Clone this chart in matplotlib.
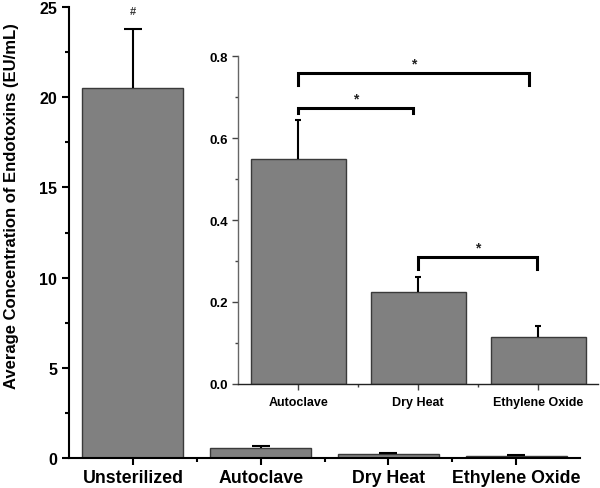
import matplotlib
matplotlib.use("Agg")
import matplotlib.pyplot as plt
from matplotlib.ticker import MultipleLocator, FixedLocator

plt.rcParams['font.family'] = ['Liberation Sans', 'DejaVu Sans']

categories = ["Unsterilized", "Autoclave", "Dry Heat", "Ethylene Oxide"]
means = [20.5, 0.55, 0.225, 0.115]
errors = [3.3, 0.095, 0.037, 0.027]

inset_categories = ["Autoclave", "Dry Heat", "Ethylene Oxide"]
inset_means = [0.549, 0.224, 0.115]
inset_errors = [0.095, 0.037, 0.027]

# brackets: (x_start, x_end, y_top, y_left_end, y_right_end)
brackets = [
    (0.0, 1.92, 0.759, 0.729, 0.729),
    (0.0, 0.96, 0.673, 0.662, 0.662),
    (1.0, 1.99, 0.310, 0.280, 0.280),
]

bar_color = "#808080"
edge_color = "#3a3a3a"

fig = plt.figure(figsize=(6.0, 4.89), dpi=100)
ax = fig.add_axes([0.115, 0.0613, 0.852, 0.9223])

x = list(range(len(categories)))
ax.bar(x, means, width=0.79, color=bar_color, edgecolor=edge_color, linewidth=1.0, zorder=2)
eb = ax.errorbar(x, means, yerr=[[0]*len(errors), errors], fmt='none', ecolor='black',
                 elinewidth=1.5, capsize=6.5, capthick=1.5, zorder=3)
eb[1][0].set_visible(False)
ax.text(0, means[0] + errors[0] + 1.0, "#", ha='center', va='center', fontsize=8,
        fontweight='bold', color='#333333')

ax.set_xlim(-0.5, 3.5)
ax.set_ylim(0, 25)
ax.set_xticks(x)
ax.set_xticklabels(categories, fontsize=12.8, fontweight='bold')
ax.xaxis.set_minor_locator(FixedLocator([0.5, 1.5, 2.5]))
ax.yaxis.set_major_locator(MultipleLocator(5))
ax.yaxis.set_minor_locator(MultipleLocator(2.5))
for lab in ax.get_yticklabels():
    lab.set_fontweight('bold')
    lab.set_fontsize(11.5)
ax.tick_params(axis='both', which='major', direction='out', length=5, width=1.5)
ax.tick_params(axis='both', which='minor', direction='out', length=3, width=1.5)
ax.tick_params(axis='x', pad=3)
ax.spines['top'].set_visible(False)
ax.spines['right'].set_visible(False)
ax.spines['left'].set_linewidth(1.5)
ax.spines['bottom'].set_linewidth(1.5)
ax.set_ylabel("Average Concentration of Endotoxins (EU/mL)", fontsize=12, fontweight='bold', labelpad=5)
ax.yaxis.set_label_coords(-0.098, 0.56)

# inset
ia = fig.add_axes([0.397, 0.2127, 0.6, 0.6707])
xi = list(range(len(inset_categories)))
ia.bar(xi, inset_means, width=0.79, color=bar_color, edgecolor=edge_color, linewidth=1.0, zorder=2)
eb2 = ia.errorbar(xi, inset_means, yerr=[[0]*len(inset_errors), inset_errors], fmt='none', ecolor='black',
                  elinewidth=1.5, capsize=2.5, capthick=1.5, zorder=3)
eb2[1][0].set_visible(False)
ia.set_xlim(-0.5, 2.5)
ia.set_ylim(0, 0.8)
ia.set_xticks(xi)
ia.set_xticklabels(inset_categories, fontsize=9, fontweight='bold')
ia.xaxis.set_minor_locator(FixedLocator([0.5, 1.5]))
ia.yaxis.set_minor_locator(MultipleLocator(0.1))
ia.set_yticks([0.0, 0.2, 0.4, 0.6, 0.8])
ia.set_yticklabels(["0.0", "0.2", "0.4", "0.6", "0.8"], fontsize=9.5, fontweight='bold')
ia.tick_params(axis='both', which='major', direction='out', length=4, width=1.0, color='#444444')
ia.tick_params(axis='both', which='minor', direction='out', length=2.5, width=1.0, color='#444444')
ia.tick_params(axis='x', pad=5)
ia.spines['top'].set_visible(False)
ia.spines['right'].set_visible(False)
ia.spines['left'].set_color('#666666')
ia.spines['bottom'].set_color('#222222')
ia.spines['left'].set_linewidth(1.0)
ia.spines['bottom'].set_linewidth(1.0)
ia.patch.set_alpha(0)

for (x0, x1, yt, yl, yr) in brackets:
    ia.plot([x0, x0, x1, x1], [yl, yt, yt, yr], color='black', lw=2.2,
            solid_joinstyle='miter', clip_on=False, zorder=4)
    ia.text((x0 + x1) / 2, yt + 0.006, "*", ha='center', va='bottom', fontsize=10,
            fontweight='bold', color='#222222')

fig.savefig("out.png", dpi=100)
